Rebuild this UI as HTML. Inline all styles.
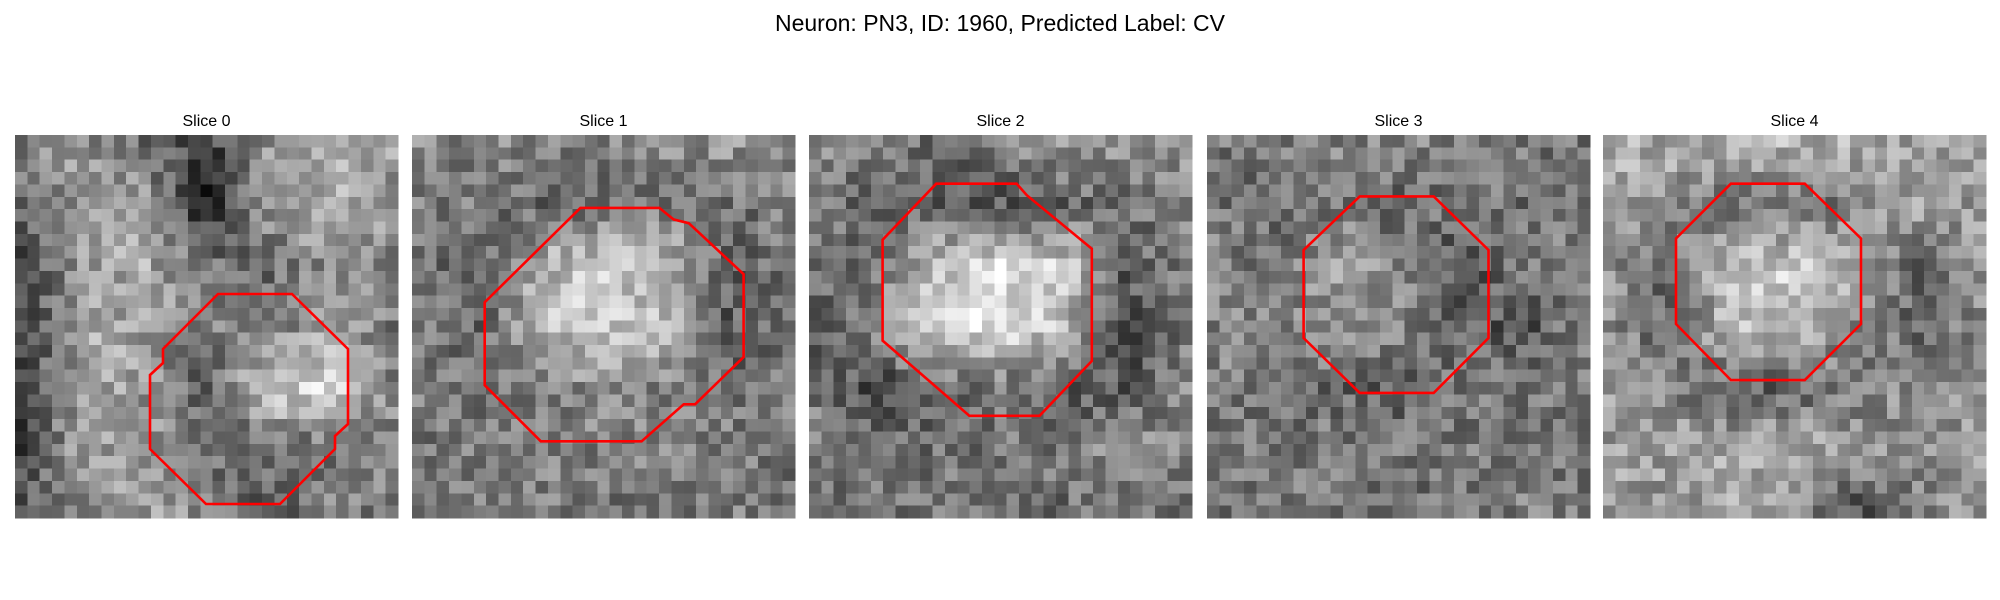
<!DOCTYPE html>
<html><head><meta charset="utf-8"><style>
html,body{margin:0;padding:0;background:#fff;}
svg{display:block;font-family:"Liberation Sans","DejaVu Sans",sans-serif;}
</style></head><body>
<svg id="fig" width="2000" height="600" viewBox="0 0 2000 600" xmlns="http://www.w3.org/2000/svg">
<rect width="2000" height="600" fill="#fff"/>
<text x="1000" y="31" font-size="23" text-anchor="middle" fill="#000">Neuron: PN3, ID: 1960, Predicted Label: CV</text>
</svg>
<script>
const sliceTitles = ["Slice 0","Slice 1","Slice 2","Slice 3","Slice 4"];
const panelX = [15, 412, 809, 1207, 1603];
const coarse0 = [[130,150,110,60,150,170,160],[100,160,150,40,150,180,150],[70,160,170,110,110,140,130],[60,170,160,130,120,170,120],[60,170,150,90,200,215,130],[70,160,160,100,110,110,140],[90,140,160,140,90,130,120]];
const coarse1 = [[140,130,140,130,140,150,140],[130,120,100,110,120,110,130],[120,100,180,200,190,100,120],[120,100,190,200,190,90,120],[130,110,120,140,130,110,130],[120,130,130,130,130,130,120],[110,120,130,120,120,130,120]];
const coarse2 = [[140,130,110,130,150,150,140],[120,100,80,90,100,110,140],[110,110,200,215,200,100,120],[90,150,215,225,190,70,120],[120,70,100,120,90,90,140],[130,120,110,120,120,140,140],[100,110,120,120,110,120,110]];
const coarse3 = [[120,120,130,130,130,120,120],[120,110,120,100,120,110,120],[130,120,160,130,80,120,130],[130,130,150,140,100,80,130],[130,110,100,90,120,120,130],[120,120,130,120,120,120,110],[110,110,120,110,110,130,120]];
const coarse4 = [[170,170,180,180,170,160,150],[160,150,110,110,130,170,150],[150,100,190,205,170,100,150],[140,100,190,185,140,100,140],[150,130,100,100,120,150,150],[160,160,170,170,160,140,150],[150,150,160,140,80,130,150]];
const coarseMaps = [coarse0, coarse1, coarse2, coarse3, coarse4];
const contour0 = [[218,294],[292,294],[348,349],[348,424],[335,436],[335,449],[280,504],[206,504],[150,449],[150,375],[163,363],[163,349]];
const contour1 = [[455,163],[517,163],[528,172],[540,175],[583,215],[583,280],[545,317],[536,317],[503,346],[424,346],[380,302],[380,237]];
const contour2 = [[734,144],[797,144],[805,153],[856,195],[856,283],[815,326],[760,326],[692,267],[692,188]];
const contour3 = [[1066,154],[1124,154],[1167,196],[1167,265],[1124,308],[1066,308],[1022,265],[1022,196]];
const contour4 = [[1357,144],[1415,144],[1459,187],[1459,254],[1415,298],[1357,298],[1314,254],[1314,187]];

const NS = "http://www.w3.org/2000/svg";
const svg = document.getElementById('fig');
const N = 31, top0 = 135, size = 383, cell = size / N, S = 1.2755;
function hash(a,b,c){let h=(a*374761393+b*668265263+c*2147483647)|0;h=(h^(h>>>13))*1274126177|0;h=h^(h>>>16);return ((h>>>0)%1000)/1000;}
function sample(m,u,v){const fx=u*6,fy=v*6;const x0=Math.min(5,Math.floor(fx)),y0=Math.min(5,Math.floor(fy));const tx=fx-x0,ty=fy-y0;
 return m[y0][x0]*(1-tx)*(1-ty)+m[y0][x0+1]*tx*(1-ty)+m[y0+1][x0]*(1-tx)*ty+m[y0+1][x0+1]*tx*ty;}
for(let p=0;p<5;p++){
  const g=document.createElementNS(NS,'g');
  
  
  g.setAttribute('shape-rendering','crispEdges');
  for(let r=0;r<N;r++)for(let c=0;c<N;c++){
    let v=sample(coarseMaps[p],c/(N-1),r/(N-1))+(hash(p,r,c)-0.5)*85;
    v=Math.max(0,Math.min(255,Math.round(v)));
    const rc=document.createElementNS(NS,'rect');
    rc.setAttribute('x',(panelX[p]+c*cell).toFixed(2));rc.setAttribute('y',(top0+r*cell).toFixed(2));
    rc.setAttribute('width',(cell+0.6).toFixed(2));rc.setAttribute('height',(cell+0.6).toFixed(2));
    rc.setAttribute('fill','rgb('+v+','+v+','+v+')');
    g.appendChild(rc);
  }
  svg.appendChild(g);
  const t=document.createElementNS(NS,'text');
  
  
  t.setAttribute('x',panelX[p]+size/2);t.setAttribute('y',126);
  t.setAttribute('font-size','16');t.setAttribute('text-anchor','middle');
  t.textContent=sliceTitles[p];
  svg.appendChild(t);
}
const contours=[contour0,contour1,contour2,contour3,contour4];
contours.forEach((pts,i)=>{
  const sc = i===0 ? 1 : S;
  const pl=document.createElementNS(NS,'polygon');
  
  
  pl.setAttribute('points',pts.map(q=>(q[0]*sc).toFixed(1)+','+(q[1]*sc).toFixed(1)).join(' '));
  pl.setAttribute('fill','none');pl.setAttribute('stroke','#ff0000');pl.setAttribute('stroke-width','2.6');
  svg.appendChild(pl);
});
</script>
</body></html>
